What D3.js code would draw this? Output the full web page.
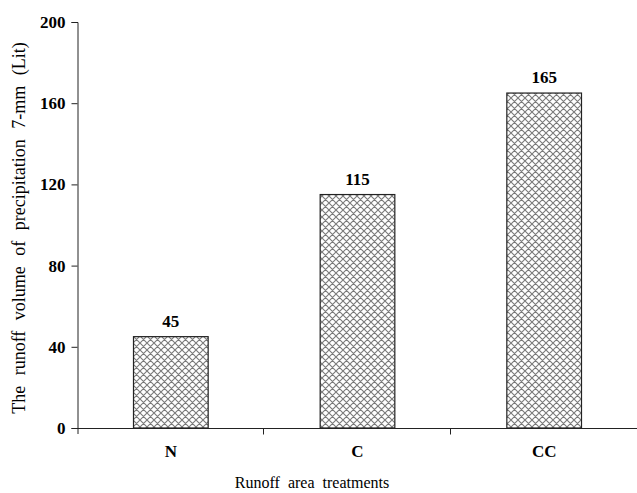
<!DOCTYPE html>
<html><head><meta charset="utf-8">
<script src="https://cdn.jsdelivr.net/npm/d3@7"></script>
<style>body{margin:0;background:#fff}svg{display:block}</style>
</head><body>
<script>
const categories = ["N", "C", "CC"];
const values = [45, 115, 165];
const yTicks = [0, 40, 80, 120, 160, 200];
const xTitle = "Runoff area treatments";
const yTitle = "The runoff volume of precipitation 7-mm (Lit)";

const W = 637, H = 493;
const m = {left: 77.5, right: 0, top: 22, bottom: 65};
const svg = d3.select("body").append("svg").attr("width", W).attr("height", H);
const FONT = "Liberation Serif, Times New Roman, serif";

const defs = svg.append("defs");
const pat = defs.append("pattern").attr("id","hatch").attr("patternUnits","userSpaceOnUse")
  .attr("width",7).attr("height",7);
pat.append("rect").attr("width",7).attr("height",7).attr("fill","#fff");
pat.append("path").attr("d","M-1,-1 L8,8 M-1,6 L1,8 M6,-1 L8,1 M8,-1 L-1,8 M1,-1 L-1,1 M8,6 L6,8")
  .attr("stroke","#7a7a7a").attr("stroke-width",1.1);

const x = d3.scaleBand().domain(categories).range([m.left, 637.5]).paddingInner(0.6).paddingOuter(0.3);
const xb = d3.scaleBand().domain(categories).range([m.left, 637.5]);
const y = d3.scaleLinear().domain([0,200]).range([428, 22]);

// bars
svg.selectAll("rect.bar").data(values).join("rect").attr("class","bar")
  .attr("x",(d,i)=>x(categories[i])).attr("width",x.bandwidth())
  .attr("y",d=>y(d)).attr("height",d=>y(0)-y(d))
  .attr("fill","url(#hatch)").attr("stroke","#222").attr("stroke-width",1.2);

// value labels
svg.selectAll("text.val").data(values).join("text").attr("class","val")
  .attr("x",(d,i)=>x(categories[i])+x.bandwidth()/2).attr("y",d=>y(d)-10)
  .attr("text-anchor","middle").attr("font-family",FONT)
  .attr("font-weight","bold").attr("font-size",17).text(d=>d);

// y axis
const ya = svg.append("g").attr("transform",`translate(${m.left},0)`)
  .call(d3.axisLeft(y).tickValues(yTicks).tickSize(6).tickPadding(6));
ya.select(".domain").attr("d",`M-6,${y(200)}.5H0.5V${y(0)+6}`).attr("stroke","#222");
ya.selectAll(".tick line").attr("stroke","#222");
ya.selectAll(".tick text").attr("font-family",FONT)
  .attr("font-weight","bold").attr("font-size",17).attr("fill","#000");

// x axis
const xa = svg.append("g").attr("transform",`translate(0,${y(0)+0.5})`);
xa.append("line").attr("x1",m.left-6).attr("x2",637).attr("stroke","#222");
xa.selectAll("line.tk").data(categories.slice(1).concat(["end"])).join("line").attr("class","tk")
  .attr("x1",(d,i)=>Math.round(m.left + xb.step()*(i+1))-0.5)
  .attr("x2",(d,i)=>Math.round(m.left + xb.step()*(i+1))-0.5)
  .attr("y1",0).attr("y2",6).attr("stroke","#222");
xa.selectAll("text").data(categories).join("text")
  .attr("x",d=>x(d)+x.bandwidth()/2).attr("y",28).attr("text-anchor","middle")
  .attr("font-family",FONT).attr("font-weight","bold")
  .attr("font-size",17).text(d=>d);

// titles
svg.append("text").attr("x",312).attr("y",488).attr("text-anchor","middle")
  .attr("font-family",FONT).attr("font-size",16).attr("word-spacing",4).text(xTitle);
svg.append("text").attr("transform","translate(25,228) rotate(-90)").attr("text-anchor","middle")
  .attr("font-family",FONT).attr("font-size",18).attr("word-spacing",6).text(yTitle);
</script>
</body></html>
